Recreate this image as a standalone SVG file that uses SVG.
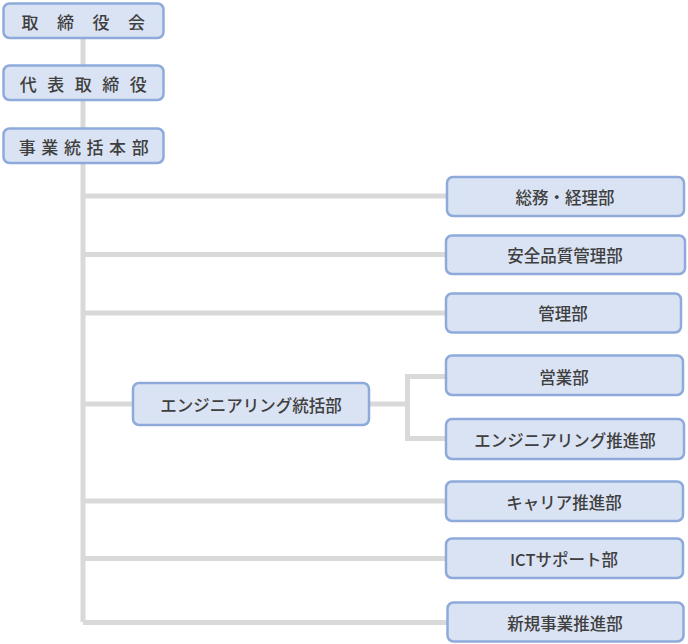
<svg xmlns="http://www.w3.org/2000/svg" width="688" height="644" viewBox="0 0 688 644">
<style>
.box{fill:#dae3f3;stroke:#8eaadb;stroke-width:2.5}
.t{font-family:"Noto Sans CJK JP","Noto Sans",sans-serif;font-size:16.5px;font-weight:500;fill:#3f3f3f;text-anchor:middle;dominant-baseline:central}
.h{font-size:17px;font-weight:500}
.c{fill:none;stroke:#d9d9d9;stroke-width:5}
</style>
<rect width="688" height="644" fill="#ffffff"/>
<g id="connectors">
<path class="c" d="M83 38V65M83 100V128M83 164V622"/>
<path class="c" d="M83 196H447M83 254.5H446M83 313H446M83 404H133M83 501H446M83 558.5H446M83 622.5H448"/>
<path class="c" d="M369 404H407.5M407.5 376.5V438.5M405 376.5H446M405 438.5H446"/>
</g>
<g id="n1"><rect class="box" x="3.5" y="3.5" width="160" height="34.5" rx="6"/><text class="t h" x="83.5" y="21" letter-spacing="18.5" dx="9">取締役会</text></g>
<g id="n2"><rect class="box" x="3.5" y="65.5" width="160" height="34.5" rx="6"/><text class="t h" x="83.5" y="83" letter-spacing="10.5" dx="5">代表取締役</text></g>
<g id="n3"><rect class="box" x="3.5" y="128.5" width="160" height="34.5" rx="6"/><text class="t h" x="83.5" y="146" letter-spacing="5.6" dx="3">事業統括本部</text></g>
<g id="n4"><rect class="box" x="447" y="177" width="237" height="39" rx="6"/><text class="t" x="565" y="197">総務・経理部</text></g>
<g id="n5"><rect class="box" x="446" y="235.5" width="239" height="38.5" rx="6"/><text class="t" x="565" y="255">安全品質管理部</text></g>
<g id="n6"><rect class="box" x="446" y="293.5" width="235" height="39" rx="6"/><text class="t" x="563" y="313">管理部</text></g>
<g id="n7"><rect class="box" x="133" y="383" width="236" height="42" rx="6"/><text class="t" x="251" y="404.5">エンジニアリング統括部</text></g>
<g id="n8"><rect class="box" x="446" y="355.5" width="237" height="39.5" rx="6"/><text class="t" x="564" y="376.5">営業部</text></g>
<g id="n9"><rect class="box" x="446" y="419" width="238" height="40" rx="6"/><text class="t" x="565" y="439.5">エンジニアリング推進部</text></g>
<g id="n10"><rect class="box" x="446" y="481.5" width="237" height="39.5" rx="6"/><text class="t" x="564" y="501.5">キャリア推進部</text></g>
<g id="n11"><rect class="box" x="446" y="538.5" width="237" height="39.5" rx="6"/><text class="t" x="564" y="558.5">ICTサポート部</text></g>
<g id="n12"><rect class="box" x="447.5" y="602.5" width="236" height="39" rx="6"/><text class="t" x="565" y="622.5">新規事業推進部</text></g>
</svg>
